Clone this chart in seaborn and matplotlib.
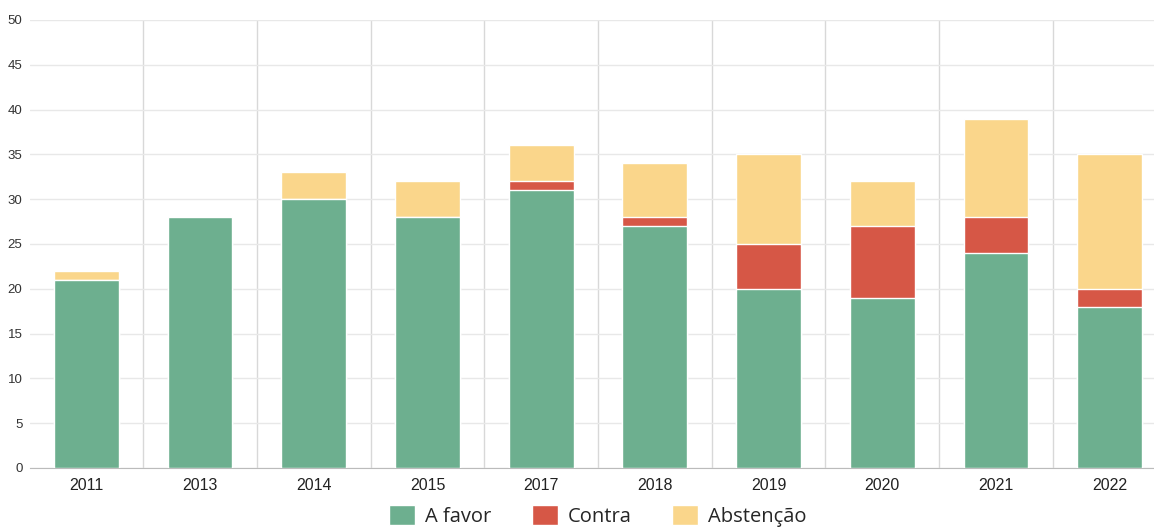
import numpy as np
import pandas as pd
import seaborn as sns
import matplotlib.pyplot as plt
from matplotlib.patches import Patch

years = ["2011", "2013", "2014", "2015", "2017", "2018", "2019", "2020", "2021", "2022"]
a_favor = [21, 28, 30, 28, 31, 27, 20, 19, 24, 18]
contra = [0, 0, 0, 0, 1, 1, 5, 8, 4, 2]
abstencao = [1, 0, 3, 4, 4, 6, 10, 5, 11, 15]

green = "#6daf8f"
red = "#d65746"
yellow = "#fad68b"

df = pd.DataFrame({"ano": years, "A favor": a_favor, "Contra": contra, "Abstenção": abstencao})
df["fc"] = df["A favor"] + df["Contra"]
df["total"] = df["fc"] + df["Abstenção"]

sns.set_style("white")
plt.rcParams["font.family"] = ["Open Sans", "DejaVu Sans"]

fig = plt.figure(figsize=(11.54, 5.3), dpi=100)
ax = fig.add_axes([29.5 / 1154, 62 / 530, 1.0 - 29.5 / 1154, 448 / 530])

# stacked by overdrawing cumulative sums
sns.barplot(data=df, x="ano", y="total", color=yellow, saturation=1, width=0.57, ax=ax, zorder=3)
sns.barplot(data=df, x="ano", y="fc", color=red, saturation=1, width=0.57, ax=ax, zorder=4)
sns.barplot(data=df, x="ano", y="A favor", color=green, saturation=1, width=0.57, ax=ax, zorder=5)

ax.set_xlim(-0.5, 9.39)
ax.set_ylim(0, 50)
ax.set_yticks(np.arange(0, 51, 5))
ax.set_xlabel("")
ax.set_ylabel("")

ax.yaxis.grid(True, color="#e8e8e8", linewidth=1, zorder=0)
for b in np.arange(0.5, 9.5, 1):
    ax.axvline(b, color="#d8d8d8", linewidth=1, zorder=0)

for s in ["top", "right", "left"]:
    ax.spines[s].set_visible(False)
ax.spines["bottom"].set_color("#bbbbbb")

ax.tick_params(axis="y", length=3, color="#bbbbbb", labelsize=9.5, labelcolor="#333333", pad=2)
ax.tick_params(axis="x", length=3, color="#bbbbbb", labelsize=11.5, labelcolor="#222222", pad=4)
for lbl in ax.get_xticklabels():
    lbl.set_family(["Liberation Sans", "DejaVu Sans"])
for lbl in ax.get_yticklabels():
    lbl.set_family(["Liberation Sans", "DejaVu Sans"])

handles = [Patch(facecolor=green, label="A favor"),
           Patch(facecolor=red, label="Contra"),
           Patch(facecolor=yellow, label="Abstenção")]
fig.legend(handles=handles, loc="lower center", bbox_to_anchor=(0.518, -0.028), ncol=3,
           frameon=False, fontsize=14.5, handlelength=1.3, handleheight=1.1,
           columnspacing=2.0, handletextpad=0.5)

fig.savefig("out.png", dpi=100)
